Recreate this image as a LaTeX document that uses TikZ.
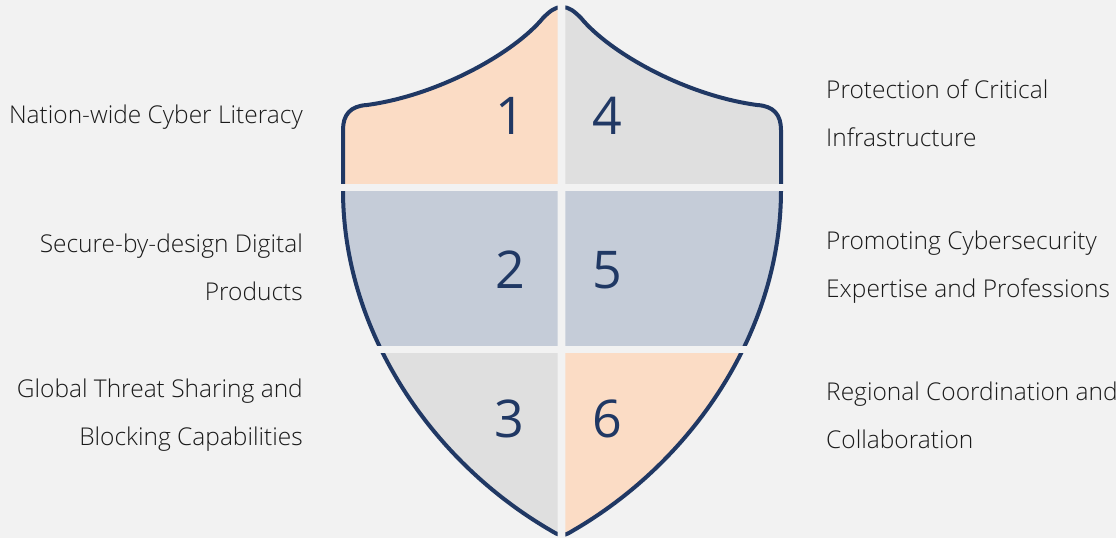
\documentclass[tikz,border=0pt]{standalone}
\usepackage{fontspec}
\setmainfont{Open Sans Light}
\newfontfamily\numfont{Open Sans}
\definecolor{bg}{HTML}{F2F2F2}
\definecolor{navy}{HTML}{203864}
\definecolor{peach}{HTML}{FBDCC5}
\definecolor{lgray}{HTML}{DFDFDF}
\definecolor{bluegray}{HTML}{C5CCD8}
\definecolor{txt}{HTML}{1A1A1A}
\tikzset{
  shield/.style={insert path={
    (562,7) .. controls (555,7) and (550,11) .. (543,18)
    .. controls (515,52) and (440,95) .. (367,105)
    .. controls (350,106) and (343,115) .. (343,130)
    -- (343,190)
    .. controls (343,330) and (430,460) .. (550,530)
    .. controls (555,533) and (558,535) .. (562,535)
    .. controls (566,535) and (569,533) .. (574,530)
    .. controls (694,460) and (781,330) .. (781,190)
    -- (781,130)
    .. controls (781,115) and (774,106) .. (757,105)
    .. controls (684,95) and (609,52) .. (581,18)
    .. controls (574,11) and (569,7) .. (562,7) -- cycle}},
  outline/.style={draw=navy, line width=4pt},
  numtext/.style={text=navy, font=\numfont\fontsize{52}{60}\selectfont, inner sep=0pt},
  lefttext/.style={anchor=east, align=right, text=txt, font=\fontsize{24.5}{48}\selectfont, inner sep=0pt},
  righttext/.style={anchor=west, align=left, text=txt, font=\fontsize{24.5}{48}\selectfont, inner sep=0pt}
}
\newcommand{\cellpart}[5]{%
  \begin{scope}
    \clip (#1,#2) rectangle (#3,#4);
    \fill[#5, shield];
    \path[outline, shield];
  \end{scope}}
\begin{document}
\begin{tikzpicture}[x=1pt, y=-1pt]
  \fill[bg] (0,0) rectangle (1116,538);
  \useasboundingbox (0,0) rectangle (1116,538);
  % cells
  \cellpart{0}{0}{557.7}{183}{peach}
  \cellpart{565.3}{0}{1116}{183}{lgray}
  \cellpart{0}{191}{557.7}{345}{bluegray}
  \cellpart{565.3}{191}{1116}{345}{bluegray}
  \cellpart{0}{353}{557.7}{538}{lgray}
  \cellpart{565.3}{353}{1116}{538}{peach}
  % numbers
  \node[numtext] (n1) at (510,116) {1};
  \node[numtext] (n4) at (607,116) {4};
  \node[numtext] (n2) at (510,270) {2};
  \node[numtext] (n5) at (607,270) {5};
  \node[numtext] (n3) at (509,419) {3};
  \node[numtext] (n6) at (607,419) {6};
  % labels
  \node[lefttext] (l1) at (303,117) {Nation-wide Cyber Literacy};
  \node[lefttext] (l2) at (303,267) {Secure-by-design Digital\\Products};
  \node[lefttext] (l3) at (303,415) {Global Threat Sharing and\\Blocking Capabilities};
  \node[righttext] (l4) at (826,113) {Protection of Critical\\Infrastructure};
  \node[righttext] (l5) at (826,267) {Promoting Cybersecurity\\Expertise and Professions};
  \node[righttext] (l6) at (826,415) {Regional Coordination and\\Collaboration};
\end{tikzpicture}
\end{document}
